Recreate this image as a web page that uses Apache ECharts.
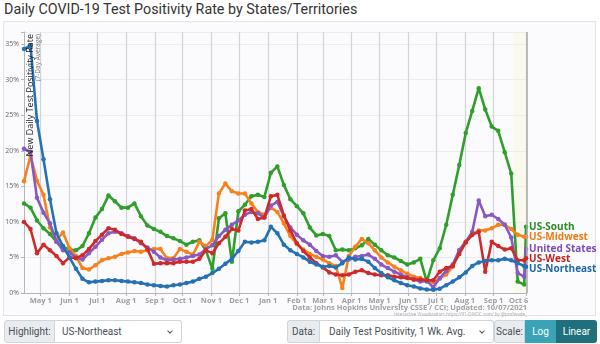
<!DOCTYPE html>
<html>
<head>
<meta charset="utf-8">
<script src="https://cdn.jsdelivr.net/npm/echarts@6/dist/echarts.min.js"></script>
<style>
  html, body { margin: 0; padding: 0; background: #fff; }
  body { width: 600px; height: 344px; position: relative; overflow: hidden; font-family: Roboto, "Liberation Sans", Arial, sans-serif; }
  #title { position: absolute; left: 4px; top: 1px; font-size: 14.3px; color: #333; line-height: 17px; white-space: nowrap; }
  #frame { position: absolute; left: 3px; top: 21px; width: 593px; height: 295px; border: 1px solid #e3e4ea; background: #fbfbfd; box-sizing: border-box; }
  #chart { position: absolute; left: 0; top: 0; width: 600px; height: 344px; }
  .grp { position: absolute; top: 320px; height: 23px; display: flex; font-size: 10px; }
  .lbl { background: #e9ecef; border: 1px solid #ced4da; color: #495057; display: flex; align-items: center; justify-content: center; border-radius: 3px 0 0 3px; box-sizing: border-box; }
  .sel { background: #fff; border: 1px solid #ced4da; border-left: none; color: #495057; padding: 0 7px; display: flex; align-items: center; border-radius: 0 3px 3px 0; position: relative; box-sizing: border-box; white-space: nowrap; }
  .sel::after { content: ''; position: absolute; right: 9px; top: 8px; width: 3px; height: 3px; border-right: 1px solid #555; border-bottom: 1px solid #555; transform: rotate(45deg); }
  .btn { color: #fff; display: flex; align-items: center; justify-content: center; box-sizing: border-box; }
</style>
</head>
<body>
<div id="title">Daily COVID-19 Test Positivity Rate by States/Territories</div>
<div id="frame"></div>
<div id="chart"></div>
<div class="grp" style="left:4px;">
  <div class="lbl" style="width:51px;">Highlight:</div>
  <div class="sel" style="width:127px;">US-Northeast</div>
</div>
<div class="grp" style="left:287px;">
  <div class="lbl" style="width:33px;">Data:</div>
  <div class="sel" style="width:174px;padding-left:9px;">Daily Test Positivity, 1 Wk. Avg.</div>
</div>
<div class="grp" style="left:494px;">
  <div class="lbl" style="width:31px;">Scale:</div>
  <div class="btn" style="width:31px;background:#3aa3b6;">Log</div>
  <div class="btn" style="width:41px;background:#1f6f7c;border-radius:0 3px 3px 0;">Linear</div>
</div>
<script>
// Weekly samples of the 7-day average test positivity (%)
const dates = [
  '2020-04-13','2020-04-20','2020-04-27','2020-05-04','2020-05-11','2020-05-18','2020-05-25','2020-06-01','2020-06-08','2020-06-15',
  '2020-06-22','2020-06-29','2020-07-06','2020-07-13','2020-07-20','2020-07-27','2020-08-03','2020-08-10','2020-08-17','2020-08-24',
  '2020-08-31','2020-09-07','2020-09-14','2020-09-21','2020-09-28','2020-10-05','2020-10-12','2020-10-19','2020-10-26','2020-11-02',
  '2020-11-09','2020-11-16','2020-11-23','2020-11-30','2020-12-07','2020-12-14','2020-12-21','2020-12-28','2021-01-04','2021-01-11',
  '2021-01-18','2021-01-25','2021-02-01','2021-02-08','2021-02-15','2021-02-22','2021-03-01','2021-03-08','2021-03-15','2021-03-22',
  '2021-03-29','2021-04-05','2021-04-12','2021-04-19','2021-04-26','2021-05-03','2021-05-10','2021-05-17','2021-05-24','2021-05-31',
  '2021-06-07','2021-06-14','2021-06-21','2021-06-28','2021-07-05','2021-07-12','2021-07-19','2021-07-26','2021-08-02','2021-08-09',
  '2021-08-16','2021-08-23','2021-08-30','2021-09-06','2021-09-13','2021-09-20','2021-09-27','2021-10-04','2021-10-06'
];

const usSouth = [
  12.6,12.0,10.2,9.1,8.3,7.2,6.5,6.1,6.0,6.6,
  8.4,10.6,11.8,13.7,12.9,12.0,12.0,12.6,10.8,9.5,
  9.0,8.6,8.0,7.7,7.3,6.8,7.2,7.4,6.0,3.4,
  10.5,11.2,4.4,11.5,12.4,13.6,13.8,13.5,16.9,17.8,
  15.2,13.2,12.2,11.2,9.2,8.1,8.3,8.0,6.0,6.1,
  6.0,6.3,6.7,7.6,6.8,6.0,5.3,5.0,4.5,4.0,
  4.3,4.8,1.6,4.6,6.3,9.6,13.8,18.0,22.5,25.6,
  28.8,25.8,23.4,22.8,19.8,16.8,1.6,1.2,9.3
];

const usMidwest = [
  15.7,19.3,15.8,13.8,9.2,7.5,8.5,6.3,5.2,3.5,
  3.3,3.9,4.6,4.9,5.1,5.5,5.7,5.9,5.8,6.0,
  6.2,6.2,4.9,4.9,6.2,5.8,5.4,7.2,6.6,7.5,
  14.0,15.4,14.3,14.0,14.0,12.6,11.4,11.0,12.0,11.4,
  9.8,8.0,6.9,6.1,5.5,5.1,4.7,4.2,3.8,0.7,
  5.2,6.5,7.6,7.0,6.0,5.0,4.3,3.7,3.2,2.7,
  2.3,2.1,1.7,1.5,2.0,2.6,3.7,6.0,7.2,8.2,
  8.8,8.8,9.1,9.6,9.6,9.0,8.2,7.9,7.9
];

const unitedStates = [
  20.3,19.8,13.4,11.3,9.8,7.2,6.0,5.7,5.0,4.7,
  5.6,6.5,7.5,8.4,8.6,8.4,8.0,7.7,7.0,6.4,
  5.8,5.0,4.6,4.7,4.8,5.0,5.2,5.4,6.2,6.7,
  8.0,8.9,9.6,10.2,11.0,11.4,11.2,10.6,12.3,12.8,
  10.8,9.2,8.2,7.4,6.8,5.9,5.2,5.1,5.3,4.4,
  4.7,5.1,5.2,5.4,4.8,4.0,3.5,3.0,2.6,2.2,
  1.9,1.6,1.7,0.8,2.1,3.1,4.0,6.0,7.2,8.6,
  13.0,10.8,11.0,10.4,9.6,7.8,2.8,2.3,6.2
];

const usWest = [
  10.0,9.0,5.6,6.8,6.0,5.2,4.2,5.0,4.9,5.3,
  6.2,7.3,8.2,9.1,8.9,8.3,7.9,7.6,7.2,6.2,
  4.1,4.2,4.2,4.2,4.4,4.4,4.4,4.8,6.0,5.6,
  7.0,7.9,9.0,8.8,11.6,11.8,10.4,10.6,13.6,13.8,
  10.9,8.8,7.0,5.9,5.0,4.2,3.6,2.9,2.6,2.5,
  2.6,3.0,3.2,2.8,2.6,2.5,2.5,2.3,2.2,2.1,
  1.9,1.9,1.8,1.8,3.0,3.5,3.8,5.5,7.1,8.2,
  8.6,3.0,7.2,6.6,6.1,6.3,4.6,4.6,4.9
];

const usNortheast = [
  34.3,34.8,24.2,18.8,13.2,8.4,6.6,5.0,3.4,2.0,
  1.5,1.6,1.7,1.8,1.8,1.7,1.6,1.5,1.4,1.2,
  1.1,1.0,0.9,1.1,1.2,1.4,1.6,2.0,2.3,2.8,
  3.4,4.1,4.8,5.9,7.2,7.1,7.2,7.4,9.3,8.4,
  6.8,6.0,5.5,5.0,4.4,4.0,3.7,3.8,3.6,4.2,
  5.0,4.7,4.8,4.4,3.5,2.8,2.2,1.8,1.4,1.1,
  0.9,0.65,0.5,0.45,0.6,1.1,1.6,2.2,2.9,3.8,
  4.3,4.5,4.6,4.6,4.8,4.6,4.2,3.8,3.7
];

const tickDates = [
  '2020-05-01','2020-06-01','2020-07-01','2020-08-01','2020-09-01','2020-10-01','2020-11-01','2020-12-01','2021-01-01',
  '2021-02-01','2021-03-01','2021-04-01','2021-05-01','2021-06-01','2021-07-01','2021-08-01','2021-09-01','2021-10-06'
];
const tickLabels = [
  'May 1','Jun 1','Jul 1','Aug 1','Sep 1','Oct 1','Nov 1','Dec 1','Jan 1',
  'Feb 1','Mar 1','Apr 1','May 1','Jun 1','Jul 1','Aug 1','Sep 1','Oct 6'
];

const seriesDefs = [
  { name: 'US-South',      values: usSouth,      color: '#2f9e2a', label: '#2b8a23' },
  { name: 'US-Midwest',    values: usMidwest,    color: '#f7811a', label: '#ef7a12' },
  { name: 'United States', values: unitedStates, color: '#8659c4', label: '#7a4db8' },
  { name: 'US-West',       values: usWest,       color: '#cf2a2a', label: '#c22020' },
  { name: 'US-Northeast',  values: usNortheast,  color: '#2471b3', label: '#1f66a6' }
];

// Dates become day-resolution timestamps on a numeric axis
function toTs(s) {
  const p = s.split('-').map(Number);
  return Date.UTC(p[0], p[1] - 1, p[2]);
}
const tickTs = tickDates.map(toTs);
const xMin = toTs('2020-04-13');
const xMax = toTs('2021-10-07');

function tickText(v) {
  for (let i = 0; i < tickTs.length; i++) {
    if (Math.abs(tickTs[i] - v) < 3600e3 * 12) {
      // the final date label sits left of its tick so it stays inside the plot
      return i === tickTs.length - 1 ? '{last|' + tickLabels[i] + '}' : tickLabels[i];
    }
  }
  return '';
}

const series = seriesDefs.map((d, si) => {
  const s = {
    name: d.name,
    type: 'line',
    data: dates.map((t, i) => [toTs(t), d.values[i]]),
    symbol: 'circle',
    symbolSize: 4.5,
    showSymbol: true,
    lineStyle: { width: 2.6, color: d.color },
    itemStyle: { color: d.color },
    z: 2 + si,
    emphasis: { disabled: true },
    endLabel: {
      show: true,
      formatter: d.name,
      color: d.label,
      fontSize: 10,
      fontWeight: 'bold',
      fontFamily: 'Open Sans',
      distance: 3
    },
    labelLayout: { moveOverlap: 'shiftY' }
  };
  if (si === 0) {
    s.markArea = {
      silent: true,
      itemStyle: { color: 'rgba(246,246,200,0.28)' },
      data: [[{ xAxis: toTs('2021-09-23') }, { xAxis: xMax }]]
    };
    s.markLine = {
      silent: true,
      symbol: 'none',
      label: { show: false },
      lineStyle: { color: '#a8a8a8', width: 1.5, type: 'solid' },
      data: [{ xAxis: xMax }]
    };
  }
  return s;
});

const chart = echarts.init(document.getElementById('chart'), null, { renderer: 'canvas' });
chart.setOption({
  animation: false,
  backgroundColor: 'transparent',
  grid: { left: 24, right: 73, top: 32, bottom: 51, containLabel: false },
  xAxis: {
    type: 'value',
    min: xMin,
    max: xMax,
    axisLine: { show: true, lineStyle: { color: '#b5b5b5' } },
    axisTick: { show: true, customValues: tickTs, length: 3, lineStyle: { color: '#b5b5b5' } },
    axisLabel: {
      customValues: tickTs,
      formatter: (v) => tickText(v),
      color: '#9c9c9c',
      fontSize: 7.5,
      fontWeight: 'bold',
      fontFamily: 'Open Sans',
      margin: 4,
      hideOverlap: false,
      rich: {
        last: { padding: [0, 15, 0, 0], color: '#9c9c9c', fontSize: 7.5, fontWeight: 'bold', fontFamily: 'Open Sans' }
      }
    },
    splitLine: { show: true, lineStyle: { color: '#d2d3d8', width: 1.2 } }
  },
  yAxis: {
    type: 'value',
    min: 0,
    max: 36.7,
    interval: 5,
    axisLine: { show: true, lineStyle: { color: '#b5b5b5' } },
    axisTick: { show: true, length: 3, lineStyle: { color: '#b5b5b5' } },
    axisLabel: {
      formatter: (v) => (v % 5 === 0 ? v + '%' : ''),
      color: '#666',
      fontSize: 7,
      fontFamily: 'Open Sans',
      margin: 5
    },
    splitLine: { show: true, lineStyle: { color: '#ebebf1', width: 1 } }
  },
  graphic: [
    {
      type: 'text', x: 30, y: 34, rotation: Math.PI / 2, z: 20,
      style: { text: 'New Daily Test Positivity Rate', font: '9px "Open Sans"', fill: '#222', align: 'right', verticalAlign: 'middle' }
    },
    {
      type: 'text', x: 38.5, y: 34, rotation: Math.PI / 2, z: 20,
      style: { text: '(7-Day Average)', font: '6.5px "Open Sans"', fill: '#777', align: 'right', verticalAlign: 'middle' }
    },
    {
      type: 'text', x: 527, y: 308, z: 20,
      style: { text: 'Data: Johns Hopkins University CSSE / CCI; Updated: 10/07/2021', font: 'bold 7.5px "Open Sans"', fill: '#a0a0a0', align: 'right', verticalAlign: 'middle' }
    },
    {
      type: 'text', x: 527, y: 314.5, z: 20,
      style: { text: 'Interactive Visualization: https://91-DIVOC.com/ by @profwade_', font: '4.5px "Open Sans"', fill: '#a8a8a8', align: 'right', verticalAlign: 'middle' }
    }
  ],
  series: series
});
</script>
</body>
</html>
